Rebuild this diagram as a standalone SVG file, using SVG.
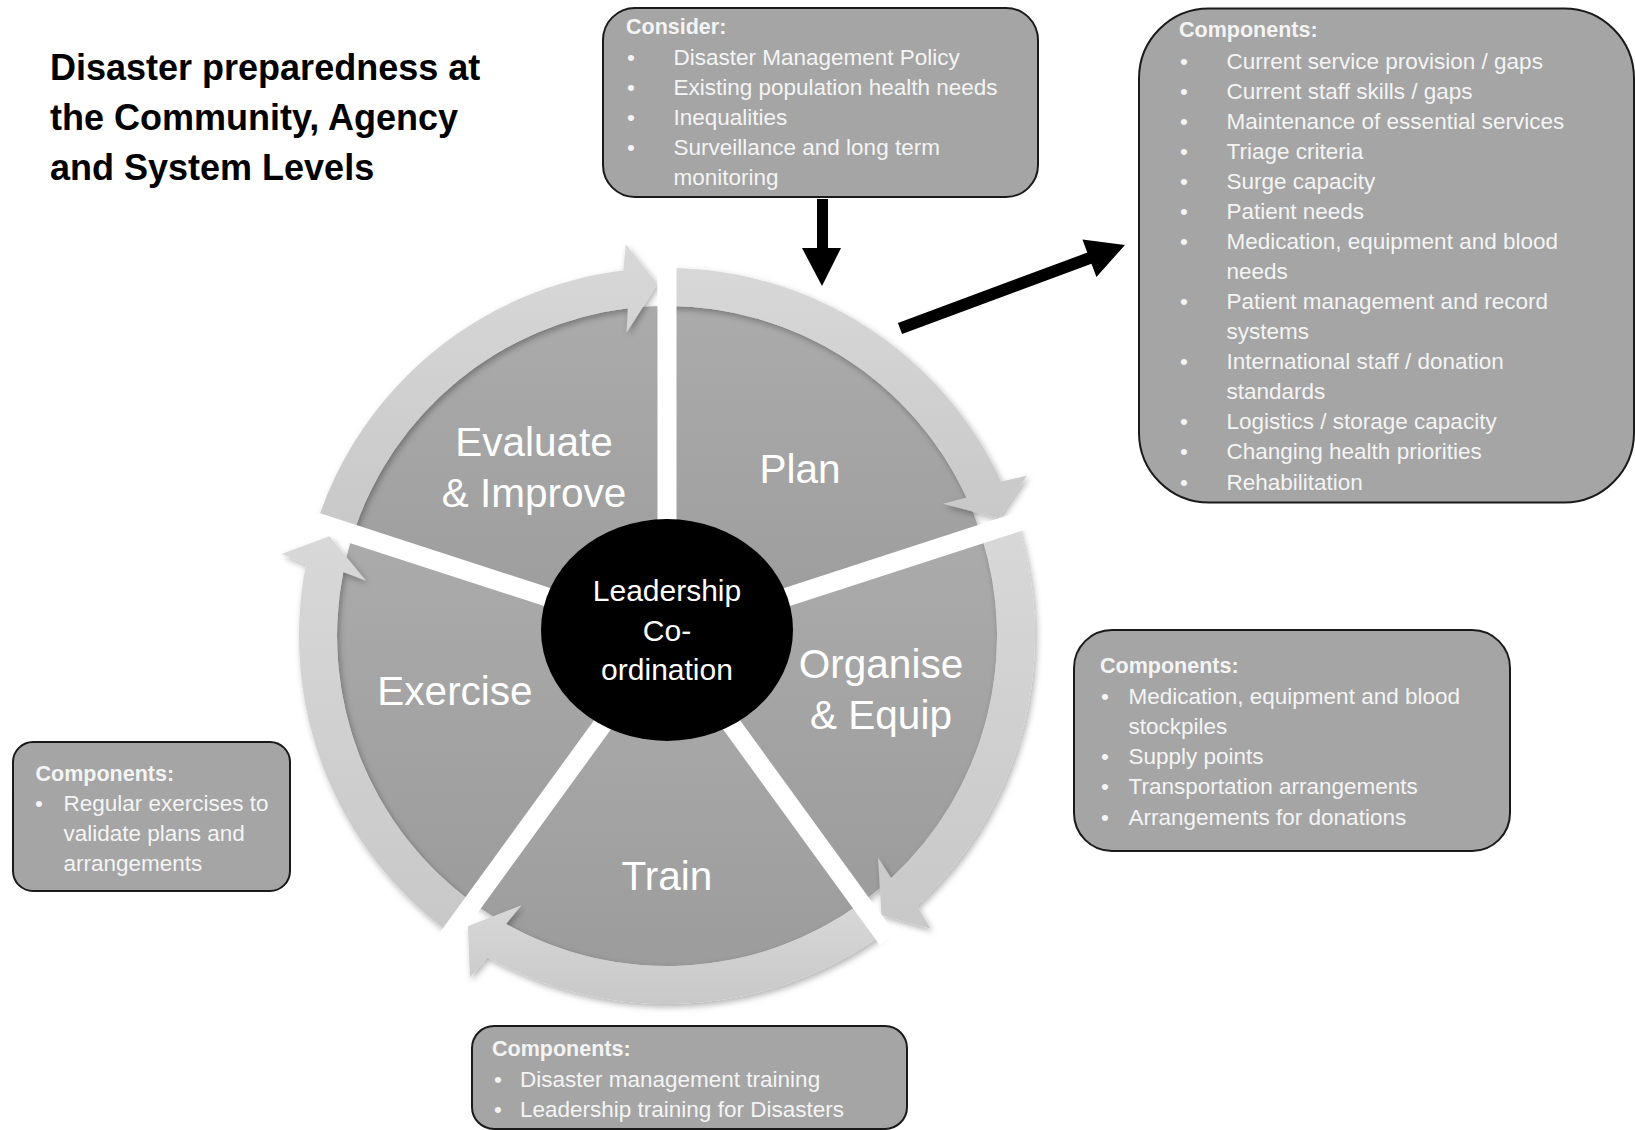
<svg xmlns="http://www.w3.org/2000/svg" width="1635" height="1130" viewBox="0 0 1635 1130">
  <defs>
    <linearGradient id="wedgeGrad" x1="0" y1="0" x2="0" y2="1">
      <stop offset="0" stop-color="#ababab"/>
      <stop offset="1" stop-color="#9c9c9c"/>
    </linearGradient>
    <linearGradient id="bandGrad" x1="0" y1="0" x2="0" y2="1">
      <stop offset="0" stop-color="#d8d8d8"/>
      <stop offset="1" stop-color="#c8c8c8"/>
    </linearGradient>
    <filter id="shadow" x="-10%" y="-10%" width="120%" height="120%">
      <feDropShadow dx="2" dy="3" stdDeviation="3" flood-color="#000" flood-opacity="0.3"/>
    </filter>
  </defs>
  <style>
    text { font-family: "Liberation Sans", Arial, sans-serif; }
    .title { font-size: 36px; font-weight: bold; fill: #000; }
    .wedge { fill: url(#wedgeGrad); filter: url(#shadow); }
    .band { fill: url(#bandGrad); filter: url(#shadow); }
    .gap { stroke: #ffffff; stroke-width: 19; stroke-linecap: butt; }
    .label { font-size: 40.5px; fill: #ffffff; text-anchor: middle; }
    .center { font-size: 30px; fill: #ffffff; text-anchor: middle; }
    .box { fill: #a5a5a5; stroke: #1a1a1a; stroke-width: 2; }
    .hdr { font-size: 21.5px; font-weight: bold; fill: #f4f4f4; }
    .item { font-size: 22.5px; fill: #f4f4f4; }
    .conn { fill: #000000; }
  </style>

  <rect x="0" y="0" width="1635" height="1130" fill="#ffffff"/>

  <g id="title">
    <text class="title" x="50" y="80">Disaster preparedness at</text>
    <text class="title" x="50" y="130">the Community, Agency</text>
    <text class="title" x="50" y="180">and System Levels</text>
  </g>

  <!-- Wheel segments -->
  <g id="node-plan">
    <path class="wedge" d="M 667 636 L 667 306 A 330 330 0 0 1 980.9 534.0 Z"/>
    <path class="band" d="M 667 268 A 368 368 0 0 1 1001.1 481.6 L 1026.9 475.8 L 998.7 518.2 L 942.9 503.8 L 966.6 497.6 A 330 330 0 0 0 667 306 Z"/>
    <text class="label" x="800" y="483">Plan</text>
  </g>
  <g id="node-organise">
    <path class="wedge" d="M 667 636 L 980.9 534.0 A 330 330 0 0 1 861.0 903.0 Z"/>
    <path class="band" d="M 1017.0 522.3 A 368 368 0 0 1 917.0 906.0 L 930.6 928.8 L 881.5 915.1 L 878.0 857.6 L 891.2 878.1 A 330 330 0 0 0 980.9 534.0 Z"/>
    <text class="label" x="881" y="678">Organise</text>
    <text class="label" x="881" y="729">&amp; Equip</text>
  </g>
  <g id="node-train">
    <path class="wedge" d="M 667 636 L 861.0 903.0 A 330 330 0 0 1 473.0 903.0 Z"/>
    <path class="band" d="M 883.3 933.7 A 368 368 0 0 1 487.5 957.2 L 470.0 977.2 L 467.9 926.3 L 521.5 905.2 L 506.0 924.1 A 330 330 0 0 0 861.0 903.0 Z"/>
    <text class="label" x="667" y="890">Train</text>
  </g>
  <g id="node-exercise">
    <path class="wedge" d="M 667 636 L 473.0 903.0 A 330 330 0 0 1 353.1 534.0 Z"/>
    <path class="band" d="M 450.7 933.7 A 368 368 0 0 1 306.0 564.5 L 281.6 554.1 L 329.4 536.3 L 366.0 580.8 L 343.3 571.9 A 330 330 0 0 0 473.0 903.0 Z"/>
    <text class="label" x="455" y="705">Exercise</text>
  </g>
  <g id="node-evaluate">
    <path class="wedge" d="M 667 636 L 353.1 534.0 A 330 330 0 0 1 667 306 Z"/>
    <path class="band" d="M 317.0 522.3 A 368 368 0 0 1 623.4 270.6 L 625.8 244.2 L 657.5 284.1 L 626.5 332.7 L 627.9 308.3 A 330 330 0 0 0 353.1 534.0 Z"/>
    <text class="label" x="534" y="456">Evaluate</text>
    <text class="label" x="534" y="507">&amp; Improve</text>
  </g>

  <g id="gaps">
    <line class="gap" x1="667" y1="636" x2="667" y2="262"/>
    <line class="gap" x1="667" y1="636" x2="1023.7" y2="520.1"/>
    <line class="gap" x1="667" y1="636" x2="887.4" y2="939.4"/>
    <line class="gap" x1="667" y1="636" x2="446.6" y2="939.4"/>
    <line class="gap" x1="667" y1="636" x2="310.3" y2="520.1"/>
  </g>

  <g id="node-center">
    <ellipse cx="667" cy="630" rx="126" ry="111" fill="#000000"/>
    <text class="center" x="667" y="601">Leadership</text>
    <text class="center" x="667" y="641">Co-</text>
    <text class="center" x="667" y="680">ordination</text>
  </g>

  <!-- Text boxes -->
  <g id="box-consider">
    <rect class="box" x="603" y="8" width="435" height="189" rx="32"/>
    <text class="hdr" x="626" y="34">Consider:</text>
    <text class="item" x="627" y="65">•</text>
    <text class="item" x="673.5" y="65">Disaster Management Policy</text>
    <text class="item" x="627" y="95">•</text>
    <text class="item" x="673.5" y="95">Existing population health needs</text>
    <text class="item" x="627" y="125">•</text>
    <text class="item" x="673.5" y="125">Inequalities</text>
    <text class="item" x="627" y="155">•</text>
    <text class="item" x="673.5" y="155">Surveillance and long term</text>
    <text class="item" x="673.5" y="185">monitoring</text>
  </g>

  <g id="box-plan-components">
    <rect class="box" x="1139" y="8.5" width="495" height="494" rx="70"/>
    <text class="hdr" x="1179" y="37">Components:</text>
    <text class="item" x="1180" y="69">•</text>
    <text class="item" x="1226.5" y="69">Current service provision / gaps</text>
    <text class="item" x="1180" y="99">•</text>
    <text class="item" x="1226.5" y="99">Current staff skills / gaps</text>
    <text class="item" x="1180" y="129">•</text>
    <text class="item" x="1226.5" y="129">Maintenance of essential services</text>
    <text class="item" x="1180" y="159">•</text>
    <text class="item" x="1226.5" y="159">Triage criteria</text>
    <text class="item" x="1180" y="189">•</text>
    <text class="item" x="1226.5" y="189">Surge capacity</text>
    <text class="item" x="1180" y="219">•</text>
    <text class="item" x="1226.5" y="219">Patient needs</text>
    <text class="item" x="1180" y="249">•</text>
    <text class="item" x="1226.5" y="249">Medication, equipment and blood</text>
    <text class="item" x="1226.5" y="279">needs</text>
    <text class="item" x="1180" y="309">•</text>
    <text class="item" x="1226.5" y="309">Patient management and record</text>
    <text class="item" x="1226.5" y="339">systems</text>
    <text class="item" x="1180" y="369">•</text>
    <text class="item" x="1226.5" y="369">International staff / donation</text>
    <text class="item" x="1226.5" y="399">standards</text>
    <text class="item" x="1180" y="429">•</text>
    <text class="item" x="1226.5" y="429">Logistics / storage capacity</text>
    <text class="item" x="1180" y="459">•</text>
    <text class="item" x="1226.5" y="459">Changing health priorities</text>
    <text class="item" x="1180" y="490">•</text>
    <text class="item" x="1226.5" y="490">Rehabilitation</text>
  </g>

  <g id="box-organise">
    <rect class="box" x="1074" y="630" width="436" height="221" rx="38"/>
    <text class="hdr" x="1100" y="673">Components:</text>
    <text class="item" x="1101" y="704">•</text>
    <text class="item" x="1128.5" y="704">Medication, equipment and blood</text>
    <text class="item" x="1128.5" y="734">stockpiles</text>
    <text class="item" x="1101" y="764">•</text>
    <text class="item" x="1128.5" y="764">Supply points</text>
    <text class="item" x="1101" y="794">•</text>
    <text class="item" x="1128.5" y="794">Transportation arrangements</text>
    <text class="item" x="1101" y="825">•</text>
    <text class="item" x="1128.5" y="825">Arrangements for donations</text>
  </g>

  <g id="box-exercise">
    <rect class="box" x="13" y="742" width="277" height="149" rx="20"/>
    <text class="hdr" x="35.5" y="781">Components:</text>
    <text class="item" x="35" y="811">•</text>
    <text class="item" x="63.5" y="811">Regular exercises to</text>
    <text class="item" x="63.5" y="841">validate plans and</text>
    <text class="item" x="63.5" y="871">arrangements</text>
  </g>

  <g id="box-train">
    <rect class="box" x="472" y="1026" width="435" height="103" rx="22"/>
    <text class="hdr" x="492" y="1056">Components:</text>
    <text class="item" x="494" y="1087">•</text>
    <text class="item" x="520" y="1087">Disaster management training</text>
    <text class="item" x="494" y="1117">•</text>
    <text class="item" x="520" y="1117">Leadership training for Disasters</text>
  </g>

  <!-- Connectors -->
  <g id="connectors">
    <polygon class="conn" points="817,199 828,199 828,248 841,248 822,286 802,248 817,248"/>
    <polygon class="conn" points="897.9,322.9 1087.3,252.6 1082.4,239.4 1125,245 1096.4,277 1091.5,263.8 902.1,334.1"/>
  </g>
</svg>
